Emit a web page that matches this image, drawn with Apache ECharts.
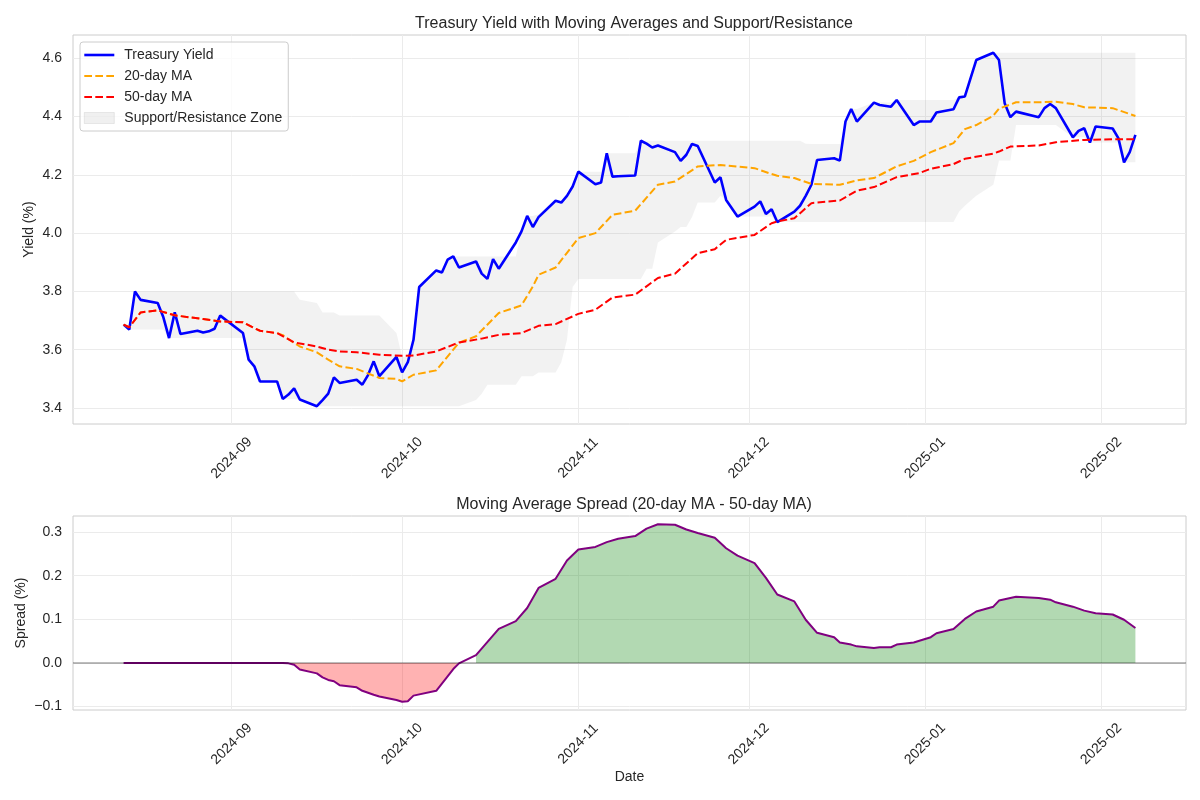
<!DOCTYPE html>
<html>
<head>
<meta charset="utf-8">
<script src="https://cdn.jsdelivr.net/npm/echarts@6/dist/echarts.min.js"></script>
<style>
  html, body { margin: 0; padding: 0; background: #fff; }
  #chart { width: 1200px; height: 800px; }
</style>
</head>
<body>
<div id="chart"></div>
<script>
// trading days
const dates = [
  "2024-08-13","2024-08-14","2024-08-15","2024-08-16","2024-08-19","2024-08-20","2024-08-21","2024-08-22","2024-08-23",
  "2024-08-26","2024-08-27","2024-08-28","2024-08-29","2024-08-30",
  "2024-09-03","2024-09-04","2024-09-05","2024-09-06","2024-09-09","2024-09-10","2024-09-11","2024-09-12","2024-09-13",
  "2024-09-16","2024-09-17","2024-09-18","2024-09-19","2024-09-20","2024-09-23","2024-09-24","2024-09-25","2024-09-26",
  "2024-09-27","2024-09-30",
  "2024-10-01","2024-10-02","2024-10-03","2024-10-04","2024-10-07","2024-10-08","2024-10-09","2024-10-10","2024-10-11",
  "2024-10-14","2024-10-15","2024-10-16","2024-10-17","2024-10-18","2024-10-21","2024-10-22","2024-10-23","2024-10-24",
  "2024-10-25","2024-10-28","2024-10-29","2024-10-30","2024-10-31",
  "2024-11-01","2024-11-04","2024-11-05","2024-11-06","2024-11-07","2024-11-08","2024-11-11","2024-11-12","2024-11-13",
  "2024-11-14","2024-11-15","2024-11-18","2024-11-19","2024-11-20","2024-11-21","2024-11-22","2024-11-25","2024-11-26",
  "2024-11-27","2024-11-29",
  "2024-12-02","2024-12-03","2024-12-04","2024-12-05","2024-12-06","2024-12-09","2024-12-10","2024-12-11","2024-12-12",
  "2024-12-13","2024-12-16","2024-12-17","2024-12-18","2024-12-19","2024-12-20","2024-12-23","2024-12-24","2024-12-26",
  "2024-12-27","2024-12-30","2024-12-31",
  "2025-01-02","2025-01-03","2025-01-06","2025-01-07","2025-01-08","2025-01-10","2025-01-13","2025-01-14","2025-01-15",
  "2025-01-16","2025-01-17","2025-01-21","2025-01-22","2025-01-23","2025-01-24","2025-01-27","2025-01-28","2025-01-29",
  "2025-01-30","2025-01-31",
  "2025-02-03","2025-02-04","2025-02-05","2025-02-06","2025-02-07"
];

const yieldVals = [
  3.686,3.669,3.800,3.771,3.760,3.711,3.640,3.728,3.654,
  3.665,3.659,3.663,3.672,3.717,
  3.657,3.566,3.543,3.491,3.491,3.431,3.446,3.467,3.429,
  3.406,3.427,3.449,3.505,3.486,3.497,3.480,3.513,3.560,
  3.509,3.575,
  3.522,3.557,3.634,3.815,3.872,3.865,3.909,3.920,3.882,
  3.903,3.861,3.843,3.911,3.878,3.968,4.006,4.059,4.021,
  4.055,4.111,4.105,4.128,4.160,
  4.211,4.168,4.174,4.274,4.194,4.195,4.198,4.317,4.307,
  4.294,4.301,4.278,4.248,4.269,4.306,4.299,4.174,4.192,
  4.114,4.057,
  4.091,4.109,4.066,4.082,4.038,4.074,4.094,4.128,4.166,
  4.251,4.257,4.249,4.383,4.426,4.383,4.448,4.440,4.434,
  4.457,4.371,4.383,
  4.383,4.414,4.425,4.466,4.469,4.594,4.619,4.594,4.446,
  4.398,4.417,4.398,4.429,4.443,4.429,4.329,4.351,4.360,
  4.311,4.366,
  4.359,4.326,4.243,4.278,4.337
];

// upper / lower edge of the grey band, one value per date
const zoneHigh = [
  3.686,3.686,3.800,3.800,3.800,3.800,3.800,3.800,3.800,
  3.800,3.800,3.800,3.800,3.800,
  3.800,3.800,3.800,3.800,3.800,3.800,3.800,3.800,3.771,
  3.760,3.728,3.728,3.728,3.717,3.717,3.717,3.717,3.717,
  3.717,3.657,
  3.575,3.575,3.634,3.815,3.872,3.872,3.909,3.920,3.920,
  3.920,3.920,3.920,3.920,3.920,3.920,4.006,4.059,4.059,
  4.065,4.111,4.111,4.128,4.160,
  4.211,4.211,4.211,4.274,4.274,4.274,4.274,4.317,4.317,
  4.317,4.317,4.317,4.317,4.317,4.317,4.317,4.317,4.317,
  4.317,4.317,
  4.317,4.317,4.317,4.317,4.317,4.317,4.317,4.307,4.306,
  4.306,4.306,4.306,4.383,4.426,4.426,4.448,4.448,4.448,
  4.457,4.457,4.457,
  4.457,4.457,4.457,4.466,4.469,4.594,4.619,4.619,4.619,
  4.619,4.619,4.619,4.619,4.619,4.619,4.619,4.619,4.619,
  4.619,4.619,
  4.619,4.619,4.619,4.619,4.619
];

const zoneLow = [
  3.686,3.669,3.669,3.669,3.669,3.669,3.640,3.640,3.640,
  3.640,3.640,3.640,3.640,3.640,
  3.640,3.566,3.543,3.491,3.491,3.431,3.431,3.431,3.429,
  3.406,3.406,3.406,3.406,3.406,3.406,3.406,3.406,3.406,
  3.406,3.406,
  3.406,3.406,3.406,3.406,3.406,3.406,3.406,3.406,3.406,
  3.427,3.449,3.480,3.480,3.480,3.480,3.509,3.509,3.509,
  3.522,3.522,3.557,3.634,3.815,
  3.843,3.843,3.843,3.843,3.843,3.843,3.843,3.843,3.878,
  3.878,3.968,4.006,4.021,4.021,4.055,4.105,4.105,4.128,
  4.114,4.057,
  4.057,4.057,4.057,4.057,4.038,4.038,4.038,4.038,4.038,
  4.038,4.038,4.038,4.038,4.038,4.038,4.038,4.038,4.038,
  4.038,4.038,4.038,
  4.038,4.038,4.038,4.074,4.094,4.128,4.166,4.249,4.249,
  4.249,4.371,4.371,4.371,4.371,4.371,4.329,4.329,4.329,
  4.311,4.311,
  4.311,4.311,4.243,4.243,4.243
];

// moving averages, read at the visible kinks
const ma20 = [
  ["2024-08-13",3.686],["2024-08-14",3.677],["2024-08-16",3.728],["2024-08-19",3.735],["2024-08-22",3.718],
  ["2024-08-27",3.705],["2024-08-30",3.697],["2024-09-03",3.694],["2024-09-05",3.674],["2024-09-06",3.665],
  ["2024-09-09",3.657],["2024-09-10",3.650],["2024-09-12",3.623],["2024-09-13",3.611],["2024-09-16",3.591],
  ["2024-09-18",3.566],["2024-09-20",3.543],["2024-09-23",3.534],["2024-09-27",3.503],["2024-09-30",3.500],
  ["2024-10-01",3.491],["2024-10-03",3.514],["2024-10-07",3.529],["2024-10-11",3.624],["2024-10-14",3.646],
  ["2024-10-18",3.726],["2024-10-22",3.752],["2024-10-24",3.817],["2024-10-25",3.857],["2024-10-28",3.882],
  ["2024-11-01",3.983],["2024-11-04",4.000],["2024-11-07",4.063],["2024-11-11",4.077],["2024-11-15",4.166],
  ["2024-11-18",4.177],["2024-11-22",4.229],["2024-11-26",4.234],["2024-12-02",4.223],["2024-12-05",4.203],
  ["2024-12-06",4.197],["2024-12-09",4.189],["2024-12-12",4.169],["2024-12-17",4.166],["2024-12-20",4.181],
  ["2024-12-23",4.189],["2024-12-27",4.229],["2024-12-30",4.248],["2025-01-02",4.278],["2025-01-06",4.309],
  ["2025-01-08",4.357],["2025-01-10",4.371],["2025-01-13",4.403],["2025-01-14",4.427],["2025-01-17",4.449],
  ["2025-01-21",4.449],["2025-01-24",4.451],["2025-01-27",4.443],["2025-01-29",4.432],["2025-02-03",4.429],
  ["2025-02-07",4.402]
];

const ma50 = [
  ["2024-08-13",3.686],["2024-08-14",3.677],["2024-08-16",3.728],["2024-08-19",3.735],["2024-08-22",3.718],
  ["2024-08-27",3.705],["2024-08-30",3.697],["2024-09-03",3.694],["2024-09-05",3.674],["2024-09-06",3.665],
  ["2024-09-09",3.657],["2024-09-12",3.625],["2024-09-16",3.611],["2024-09-18",3.600],["2024-09-20",3.594],
  ["2024-09-23",3.591],["2024-09-27",3.583],["2024-10-01",3.579],["2024-10-03",3.580],["2024-10-07",3.594],
  ["2024-10-11",3.625],["2024-10-15",3.638],["2024-10-18",3.651],["2024-10-22",3.657],["2024-10-25",3.682],
  ["2024-10-28",3.688],["2024-11-01",3.723],["2024-11-04",3.737],["2024-11-07",3.779],["2024-11-11",3.789],
  ["2024-11-15",3.846],["2024-11-18",3.861],["2024-11-22",3.931],["2024-11-25",3.945],["2024-11-27",3.977],
  ["2024-12-02",3.994],["2024-12-05",4.034],["2024-12-06",4.040],["2024-12-09",4.051],["2024-12-12",4.103],
  ["2024-12-17",4.112],["2024-12-20",4.146],["2024-12-23",4.158],["2024-12-27",4.192],["2024-12-31",4.206],
  ["2025-01-02",4.221],["2025-01-06",4.237],["2025-01-08",4.255],["2025-01-13",4.273],["2025-01-14",4.280],
  ["2025-01-16",4.297],["2025-01-21",4.301],["2025-01-24",4.312],["2025-01-29",4.320],["2025-02-03",4.322],
  ["2025-02-07",4.322]
];

// 20-day MA minus 50-day MA
const spread = [
  ["2024-08-13",0],["2024-09-10",0],["2024-09-11",-0.001],["2024-09-12",-0.004],["2024-09-13",-0.015],
  ["2024-09-16",-0.024],["2024-09-17",-0.033],["2024-09-18",-0.039],["2024-09-19",-0.042],["2024-09-20",-0.051],
  ["2024-09-23",-0.056],["2024-09-24",-0.064],["2024-09-26",-0.073],["2024-09-27",-0.077],["2024-09-30",-0.085],
  ["2024-10-01",-0.089],["2024-10-02",-0.088],["2024-10-03",-0.075],["2024-10-07",-0.064],["2024-10-10",-0.014],
  ["2024-10-11",-0.001],["2024-10-14",0.018],["2024-10-18",0.078],["2024-10-21",0.096],["2024-10-23",0.126],
  ["2024-10-25",0.172],["2024-10-28",0.193],["2024-10-30",0.235],["2024-11-01",0.260],["2024-11-04",0.266],
  ["2024-11-06",0.277],["2024-11-08",0.285],["2024-11-11",0.291],["2024-11-13",0.308],["2024-11-15",0.318],
  ["2024-11-18",0.317],["2024-11-20",0.306],["2024-11-22",0.298],["2024-11-25",0.287],["2024-11-27",0.263],
  ["2024-11-29",0.246],["2024-12-02",0.229],["2024-12-04",0.195],["2024-12-06",0.157],["2024-12-09",0.141],
  ["2024-12-11",0.099],["2024-12-13",0.069],["2024-12-16",0.059],["2024-12-17",0.047],["2024-12-19",0.042],
  ["2024-12-20",0.038],["2024-12-23",0.034],["2024-12-24",0.036],["2024-12-26",0.036],["2024-12-27",0.042],
  ["2024-12-30",0.047],["2025-01-02",0.059],["2025-01-03",0.068],["2025-01-06",0.078],["2025-01-08",0.101],
  ["2025-01-10",0.118],["2025-01-13",0.129],["2025-01-14",0.143],["2025-01-17",0.152],["2025-01-21",0.149],
  ["2025-01-23",0.145],["2025-01-24",0.139],["2025-01-27",0.129],["2025-01-29",0.120],["2025-01-31",0.114],
  ["2025-02-03",0.111],["2025-02-05",0.099],["2025-02-07",0.080]
];

const monthTicks = ["2024-09","2024-10","2024-11","2024-12","2025-01","2025-02"];
const yieldTicks = [3.4, 3.6, 3.8, 4.0, 4.2, 4.4, 4.6];
const spreadTicks = [-0.1, 0.0, 0.1, 0.2, 0.3];

function toUtcMs(s) {
  const [y, m, d] = s.split("-").map(Number);
  return Date.UTC(y, m - 1, d);
}

const times = dates.map(toUtcMs);
const tStart = times[0];
const tEnd = times[times.length - 1];
const pad = 0.05 * (tEnd - tStart);
const monthMs = monthTicks.map((m) => toUtcMs(m + "-01"));

const FONT = '"Liberation Sans", Arial, sans-serif';
const TEXT = "#262626";
const GRID = "#ebebeb";

const pairs = (arr) => arr.map((p) => [toUtcMs(p[0]), p[1]]);
const spreadData = pairs(spread);

function fmtMonth(v) {
  const i = monthMs.indexOf(v);
  return i >= 0 ? monthTicks[i] : "";
}
function fmtNum(v) {
  return (v < -1e-9 ? "\u2212" : "") + Math.abs(v).toFixed(1);
}

// x is a plain value axis over UTC milliseconds, ticks at month starts
function xAxisFor(gridIndex, extra) {
  return Object.assign({
    type: "value",
    gridIndex,
    min: tStart - pad,
    max: tEnd + pad,
    axisLine: { show: false },
    axisTick: { show: false, customValues: monthMs },
    axisLabel: {
      customValues: monthMs,
      formatter: fmtMonth,
      rotate: 45,
      align: "center",
      verticalAlign: "middle",
      margin: 34,
      fontSize: 14,
      color: TEXT,
      fontFamily: FONT,
    },
    splitLine: { show: true, lineStyle: { color: GRID, width: 1 } },
  }, extra || {});
}

function yAxisFor(gridIndex, min, max, ticks, name, gap) {
  return {
    type: "value",
    gridIndex,
    min,
    max,
    name,
    nameLocation: "middle",
    nameGap: gap,
    nameMoveOverlap: false,
    nameTextStyle: { fontSize: 14, color: TEXT, fontFamily: FONT },
    axisLine: { show: false },
    axisTick: { show: false, customValues: ticks },
    axisLabel: {
      customValues: ticks,
      formatter: fmtNum,
      margin: 11,
      fontSize: 14,
      color: TEXT,
      fontFamily: FONT,
    },
    splitLine: { show: true, lineStyle: { color: GRID, width: 1 } },
  };
}

const chart = echarts.init(document.getElementById("chart"), null, { renderer: "canvas" });

const noSymbol = { opacity: 0 };

const option = {
  animation: false,
  backgroundColor: "#ffffff",
  textStyle: { fontFamily: FONT },
  title: [
    {
      text: "Treasury Yield with Moving Averages and Support/Resistance",
      left: 629, top: 11, textAlign: "center",
      textStyle: { fontSize: 16, fontWeight: "normal", color: TEXT, fontFamily: FONT },
    },
    {
      text: "Moving Average Spread (20-day MA - 50-day MA)",
      left: 629, top: 492, textAlign: "center",
      textStyle: { fontSize: 16, fontWeight: "normal", color: TEXT, fontFamily: FONT },
    },
  ],
  legend: {
    left: 80, top: 42,
    orient: "vertical",
    itemWidth: 30, itemHeight: 11, itemGap: 5,
    padding: [5, 6, 5, 3],
    backgroundColor: "rgba(255,255,255,0.8)",
    borderColor: "#cccccc", borderWidth: 1, borderRadius: 3,
    textStyle: { fontSize: 14, color: TEXT, fontFamily: FONT, lineHeight: 16, padding: [0, 0, 0, 5] },
    data: [
      { name: "Treasury Yield", itemStyle: noSymbol, lineStyle: { width: 2.6 } },
      { name: "20-day MA", itemStyle: noSymbol },
      { name: "50-day MA", itemStyle: noSymbol },
      { name: "Support/Resistance Zone", icon: "rect",
        itemStyle: { color: "rgba(128,128,128,0.12)", borderColor: "rgba(128,128,128,0.15)", borderWidth: 1 } },
    ],
  },
  grid: [
    { left: 73, top: 35, width: 1113, height: 389, show: true, borderColor: "#cccccc", borderWidth: 1, backgroundColor: "transparent" },
    { left: 73, top: 516, width: 1113, height: 194, show: true, borderColor: "#cccccc", borderWidth: 1, backgroundColor: "transparent" },
  ],
  xAxis: [
    xAxisFor(0),
    xAxisFor(1, { name: "Date", nameLocation: "middle", nameGap: 60, nameMoveOverlap: false,
      nameTextStyle: { fontSize: 14, color: TEXT, fontFamily: FONT } }),
  ],
  yAxis: [
    yAxisFor(0, 3.345, 4.68, yieldTicks, "Yield (%)", 37),
    yAxisFor(1, -0.108, 0.337, spreadTicks, "Spread (%)", 45),
  ],
  series: [
    {
      name: "Support/Resistance Zone",
      type: "custom",
      xAxisIndex: 0, yAxisIndex: 0,
      z: 1,
      silent: true,
      itemStyle: { color: "rgba(128,128,128,0.12)" },
      data: [[tStart, zoneLow[0]]],
      renderItem: function (params, api) {
        const pts = [];
        for (let i = 0; i < times.length; i++) pts.push(api.coord([times[i], zoneHigh[i]]));
        for (let i = times.length - 1; i >= 0; i--) pts.push(api.coord([times[i], zoneLow[i]]));
        return { type: "polygon", shape: { points: pts }, style: { fill: "rgba(128,128,128,0.1)" } };
      },
    },
    {
      name: "Treasury Yield",
      type: "line",
      xAxisIndex: 0, yAxisIndex: 0,
      z: 3,
      data: times.map((t, i) => [t, yieldVals[i]]),
      symbol: "none",
      color: "#0000ff",
      lineStyle: { color: "#0000ff", width: 2.6 },
    },
    {
      name: "20-day MA",
      type: "line",
      xAxisIndex: 0, yAxisIndex: 0,
      z: 4,
      data: pairs(ma20),
      symbol: "none",
      color: "#ffa500",
      lineStyle: { color: "#ffa500", width: 2, type: [7.7, 3.3] },
    },
    {
      name: "50-day MA",
      type: "line",
      xAxisIndex: 0, yAxisIndex: 0,
      z: 4,
      data: pairs(ma50),
      symbol: "none",
      color: "#ff0000",
      lineStyle: { color: "#ff0000", width: 2, type: [7.7, 3.3] },
    },
    {
      name: "zero",
      type: "line",
      xAxisIndex: 1, yAxisIndex: 1,
      z: 1,
      data: [],
      symbol: "none",
      silent: true,
      markLine: {
        silent: true,
        symbol: "none",
        label: { show: false },
        lineStyle: { color: "rgba(0,0,0,0.35)", width: 1.6, type: "solid" },
        data: [{ yAxis: 0 }],
      },
    },
    {
      name: "negative",
      type: "line",
      xAxisIndex: 1, yAxisIndex: 1,
      z: 2,
      data: spreadData.filter((p) => p[1] < 0),
      symbol: "none",
      lineStyle: { width: 0 },
      areaStyle: { color: "rgba(255,0,0,0.3)", opacity: 1, origin: 0 },
    },
    {
      name: "positive",
      type: "line",
      xAxisIndex: 1, yAxisIndex: 1,
      z: 2,
      data: spreadData.filter((p) => p[1] > 0),
      symbol: "none",
      lineStyle: { width: 0 },
      areaStyle: { color: "rgba(0,128,0,0.3)", opacity: 1, origin: 0 },
    },
    {
      name: "spread",
      type: "line",
      xAxisIndex: 1, yAxisIndex: 1,
      z: 3,
      data: spreadData,
      symbol: "none",
      lineStyle: { color: "#800080", width: 2 },
    },
  ],
};

chart.setOption(option);
</script>
</body>
</html>
